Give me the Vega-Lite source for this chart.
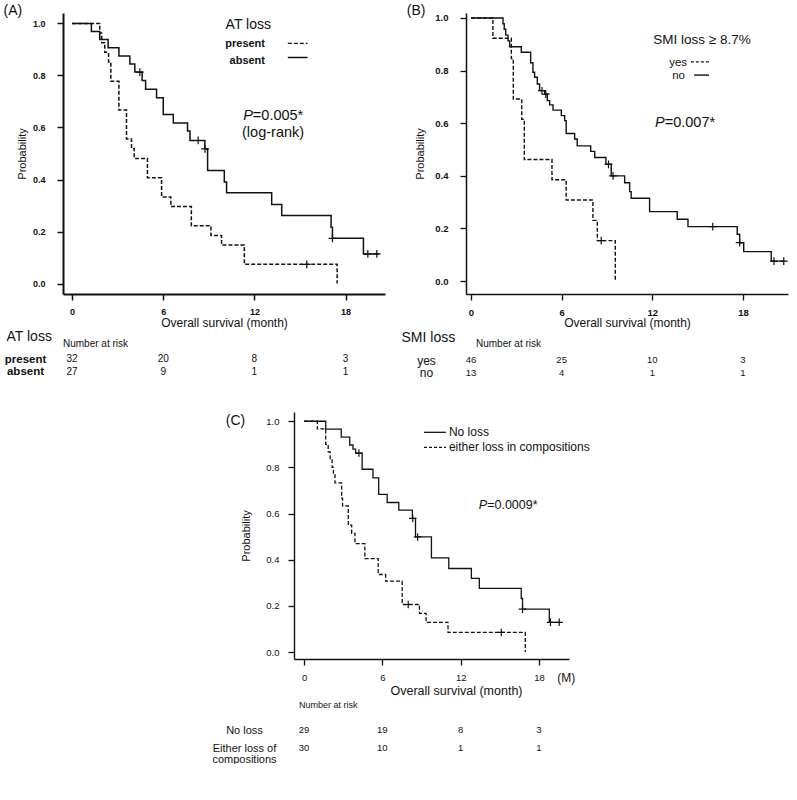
{
  "$schema": "https://vega.github.io/schema/vega-lite/v6.json",
  "background": "white",
  "padding": {"left": 3, "top": 3, "right": 0, "bottom": 0},
  "config": {
    "font": "Liberation Sans",
    "view": {"stroke": null},
    "axis": {"grid": false, "domainColor": "#111", "tickColor": "#111", "labelColor": "#111", "titleColor": "#111", "titleFontWeight": "normal", "labelFlush": false, "labelOverlap": false},
    "title": {"fontWeight": "normal", "fontSize": 14, "color": "#111", "anchor": "start", "frame": "bounds"},
    "text": {"color": "#111"}
  },
  "datasets": {
    "one": [{}],
    "kmA": [
      {"grp": "absent", "t": 0, "s": 1}, {"grp": "absent", "t": 1.27, "s": 0.969}, {"grp": "absent", "t": 1.82, "s": 0.938}, {"grp": "absent", "t": 2.37, "s": 0.906}, {"grp": "absent", "t": 3.08, "s": 0.875}, {"grp": "absent", "t": 3.8, "s": 0.844}, {"grp": "absent", "t": 4.13, "s": 0.813}, {"grp": "absent", "t": 4.61, "s": 0.781}, {"grp": "absent", "t": 4.84, "s": 0.747}, {"grp": "absent", "t": 5.56, "s": 0.714}, {"grp": "absent", "t": 6.0, "s": 0.65}, {"grp": "absent", "t": 6.66, "s": 0.617}, {"grp": "absent", "t": 7.6, "s": 0.586}, {"grp": "absent", "t": 7.76, "s": 0.55}, {"grp": "absent", "t": 8.74, "s": 0.518}, {"grp": "absent", "t": 8.92, "s": 0.435}, {"grp": "absent", "t": 10.02, "s": 0.39}, {"grp": "absent", "t": 10.17, "s": 0.349}, {"grp": "absent", "t": 13.14, "s": 0.304}, {"grp": "absent", "t": 13.8, "s": 0.262}, {"grp": "absent", "t": 17.05, "s": 0.217}, {"grp": "absent", "t": 17.14, "s": 0.174}, {"grp": "absent", "t": 19.18, "s": 0.114}, {"grp": "absent", "t": 20.2, "s": 0.114},
      {"grp": "present", "t": 0, "s": 1}, {"grp": "present", "t": 1.82, "s": 0.963}, {"grp": "present", "t": 1.95, "s": 0.926}, {"grp": "present", "t": 2.15, "s": 0.889}, {"grp": "present", "t": 2.4, "s": 0.852}, {"grp": "present", "t": 2.55, "s": 0.778}, {"grp": "present", "t": 3.08, "s": 0.667}, {"grp": "present", "t": 3.58, "s": 0.556}, {"grp": "present", "t": 3.91, "s": 0.519}, {"grp": "present", "t": 4.09, "s": 0.481}, {"grp": "present", "t": 4.96, "s": 0.407}, {"grp": "present", "t": 5.89, "s": 0.333}, {"grp": "present", "t": 6.5, "s": 0.296}, {"grp": "present", "t": 7.85, "s": 0.222}, {"grp": "present", "t": 9.14, "s": 0.185}, {"grp": "present", "t": 9.84, "s": 0.148}, {"grp": "present", "t": 11.34, "s": 0.074}, {"grp": "present", "t": 17.45, "s": 0}
    ],
    "cenA": [
      {"grp": "absent", "t": 4.46, "s": 0.813}, {"grp": "absent", "t": 8.3, "s": 0.55}, {"grp": "absent", "t": 8.75, "s": 0.518}, {"grp": "absent", "t": 17.14, "s": 0.174}, {"grp": "absent", "t": 19.47, "s": 0.114}, {"grp": "absent", "t": 20.06, "s": 0.114}, {"grp": "present", "t": 15.45, "s": 0.074}
    ],
    "riskA": [
      {"grp": "present", "t": 0, "n": "32"}, {"grp": "present", "t": 6, "n": "20"}, {"grp": "present", "t": 12, "n": "8"}, {"grp": "present", "t": 18, "n": "3"},
      {"grp": "absent", "t": 0, "n": "27"}, {"grp": "absent", "t": 6, "n": "9"}, {"grp": "absent", "t": 12, "n": "1"}, {"grp": "absent", "t": 18, "n": "1"}
    ],
    "kmB": [
      {"grp": "no", "t": 0, "s": 1}, {"grp": "no", "t": 2.12, "s": 0.978}, {"grp": "no", "t": 2.2, "s": 0.957}, {"grp": "no", "t": 2.3, "s": 0.935}, {"grp": "no", "t": 2.45, "s": 0.913}, {"grp": "no", "t": 2.56, "s": 0.891}, {"grp": "no", "t": 3.33, "s": 0.87}, {"grp": "no", "t": 3.95, "s": 0.83}, {"grp": "no", "t": 4.1, "s": 0.794}, {"grp": "no", "t": 4.21, "s": 0.775}, {"grp": "no", "t": 4.39, "s": 0.749}, {"grp": "no", "t": 4.54, "s": 0.724}, {"grp": "no", "t": 4.88, "s": 0.711}, {"grp": "no", "t": 5.05, "s": 0.686}, {"grp": "no", "t": 5.21, "s": 0.67}, {"grp": "no", "t": 5.43, "s": 0.65}, {"grp": "no", "t": 5.98, "s": 0.629}, {"grp": "no", "t": 6.2, "s": 0.61}, {"grp": "no", "t": 6.3, "s": 0.561}, {"grp": "no", "t": 6.86, "s": 0.54}, {"grp": "no", "t": 7.03, "s": 0.514}, {"grp": "no", "t": 7.92, "s": 0.493}, {"grp": "no", "t": 8.19, "s": 0.47}, {"grp": "no", "t": 8.93, "s": 0.444}, {"grp": "no", "t": 9.28, "s": 0.4}, {"grp": "no", "t": 10.17, "s": 0.374}, {"grp": "no", "t": 10.5, "s": 0.34}, {"grp": "no", "t": 10.6, "s": 0.315}, {"grp": "no", "t": 11.82, "s": 0.264}, {"grp": "no", "t": 13.65, "s": 0.235}, {"grp": "no", "t": 14.36, "s": 0.207}, {"grp": "no", "t": 17.62, "s": 0.178}, {"grp": "no", "t": 17.78, "s": 0.146}, {"grp": "no", "t": 18.05, "s": 0.112}, {"grp": "no", "t": 19.87, "s": 0.076}, {"grp": "no", "t": 20.75, "s": 0.076},
      {"grp": "yes", "t": 0, "s": 1}, {"grp": "yes", "t": 1.45, "s": 0.923}, {"grp": "yes", "t": 2.67, "s": 0.846}, {"grp": "yes", "t": 2.8, "s": 0.692}, {"grp": "yes", "t": 3.36, "s": 0.615}, {"grp": "yes", "t": 3.53, "s": 0.462}, {"grp": "yes", "t": 5.36, "s": 0.385}, {"grp": "yes", "t": 6.3, "s": 0.308}, {"grp": "yes", "t": 8.07, "s": 0.231}, {"grp": "yes", "t": 8.36, "s": 0.154}, {"grp": "yes", "t": 9.55, "s": 0}
    ],
    "cenB": [
      {"grp": "no", "t": 4.7, "s": 0.724}, {"grp": "no", "t": 4.95, "s": 0.711}, {"grp": "no", "t": 9.1, "s": 0.444}, {"grp": "no", "t": 9.4, "s": 0.4}, {"grp": "no", "t": 16.0, "s": 0.207}, {"grp": "no", "t": 17.78, "s": 0.146}, {"grp": "no", "t": 20.05, "s": 0.076}, {"grp": "no", "t": 20.7, "s": 0.076}, {"grp": "yes", "t": 8.62, "s": 0.154}
    ],
    "riskB": [
      {"grp": "yes", "t": 0, "n": "46"}, {"grp": "yes", "t": 6, "n": "25"}, {"grp": "yes", "t": 12, "n": "10"}, {"grp": "yes", "t": 18, "n": "3"},
      {"grp": "no", "t": 0, "n": "13"}, {"grp": "no", "t": 6, "n": "4"}, {"grp": "no", "t": 12, "n": "1"}, {"grp": "no", "t": 18, "n": "1"}
    ],
    "kmC": [
      {"grp": "No loss", "t": 0, "s": 1}, {"grp": "No loss", "t": 1.66, "s": 0.966}, {"grp": "No loss", "t": 2.85, "s": 0.931}, {"grp": "No loss", "t": 3.5, "s": 0.897}, {"grp": "No loss", "t": 3.75, "s": 0.879}, {"grp": "No loss", "t": 3.95, "s": 0.862}, {"grp": "No loss", "t": 4.45, "s": 0.792}, {"grp": "No loss", "t": 5.28, "s": 0.755}, {"grp": "No loss", "t": 5.72, "s": 0.683}, {"grp": "No loss", "t": 6.37, "s": 0.648}, {"grp": "No loss", "t": 7.26, "s": 0.615}, {"grp": "No loss", "t": 8.3, "s": 0.579}, {"grp": "No loss", "t": 8.54, "s": 0.499}, {"grp": "No loss", "t": 9.76, "s": 0.408}, {"grp": "No loss", "t": 11.09, "s": 0.362}, {"grp": "No loss", "t": 12.82, "s": 0.319}, {"grp": "No loss", "t": 13.43, "s": 0.276}, {"grp": "No loss", "t": 16.64, "s": 0.232}, {"grp": "No loss", "t": 16.74, "s": 0.186}, {"grp": "No loss", "t": 18.79, "s": 0.129}, {"grp": "No loss", "t": 19.65, "s": 0.129},
      {"grp": "either loss in compositions", "t": 0, "s": 1}, {"grp": "either loss in compositions", "t": 1.02, "s": 0.967}, {"grp": "either loss in compositions", "t": 1.66, "s": 0.9}, {"grp": "either loss in compositions", "t": 1.85, "s": 0.867}, {"grp": "either loss in compositions", "t": 2.0, "s": 0.833}, {"grp": "either loss in compositions", "t": 2.15, "s": 0.8}, {"grp": "either loss in compositions", "t": 2.25, "s": 0.767}, {"grp": "either loss in compositions", "t": 2.37, "s": 0.733}, {"grp": "either loss in compositions", "t": 2.88, "s": 0.667}, {"grp": "either loss in compositions", "t": 2.95, "s": 0.633}, {"grp": "either loss in compositions", "t": 3.39, "s": 0.55}, {"grp": "either loss in compositions", "t": 3.65, "s": 0.514}, {"grp": "either loss in compositions", "t": 3.9, "s": 0.47}, {"grp": "either loss in compositions", "t": 4.66, "s": 0.405}, {"grp": "either loss in compositions", "t": 5.68, "s": 0.336}, {"grp": "either loss in compositions", "t": 6.25, "s": 0.307}, {"grp": "either loss in compositions", "t": 7.52, "s": 0.206}, {"grp": "either loss in compositions", "t": 8.84, "s": 0.168}, {"grp": "either loss in compositions", "t": 9.35, "s": 0.129}, {"grp": "either loss in compositions", "t": 11.03, "s": 0.085}, {"grp": "either loss in compositions", "t": 16.95, "s": 0}
    ],
    "cenC": [
      {"grp": "No loss", "t": 4.2, "s": 0.862}, {"grp": "No loss", "t": 8.33, "s": 0.579}, {"grp": "No loss", "t": 8.7, "s": 0.499}, {"grp": "No loss", "t": 16.74, "s": 0.186}, {"grp": "No loss", "t": 18.88, "s": 0.129}, {"grp": "No loss", "t": 19.55, "s": 0.129}, {"grp": "either loss in compositions", "t": 7.98, "s": 0.206}, {"grp": "either loss in compositions", "t": 15.11, "s": 0.085}
    ],
    "riskC": [
      {"grp": "No loss", "t": 0, "n": "29"}, {"grp": "No loss", "t": 6, "n": "19"}, {"grp": "No loss", "t": 12, "n": "8"}, {"grp": "No loss", "t": 18, "n": "3"},
      {"grp": "Either", "t": 0, "n": "30"}, {"grp": "Either", "t": 6, "n": "10"}, {"grp": "Either", "t": 12, "n": "1"}, {"grp": "Either", "t": 18, "n": "1"}
    ]
  },
  "spacing": 33,
  "vconcat": [
    {
      "spacing": 16,
      "hconcat": [
        {
          "spacing": 1,
          "vconcat": [
            {
              "width": 322,
              "height": 281,
              "title": {"text": "(A)", "offset": -5, "dx": -13},
              "layer": [
                {
                  "data": {"name": "kmA"},
                  "mark": {"type": "line", "interpolate": "step-after", "strokeWidth": 1.5, "color": "#111"},
                  "encoding": {
                    "x": {"field": "t", "type": "quantitative", "scale": {"domain": [-0.6, 20.6], "nice": false, "zero": false},
                      "axis": {"values": [0, 6, 12, 18], "title": "Overall  survival  (month)", "titleFontSize": 12, "titlePadding": 1, "labelFontSize": 9, "labelFontWeight": "bold", "labelPadding": 7, "tickSize": 6, "domainWidth": 2, "tickWidth": 1.5}},
                    "y": {"field": "s", "type": "quantitative", "scale": {"domain": [-0.04, 1.04], "nice": false, "zero": false},
                      "axis": {"values": [0, 0.2, 0.4, 0.6, 0.8, 1], "format": ".1f", "title": "Probability", "titleFontSize": 11, "titlePadding": 5, "labelFontSize": 9, "labelFontWeight": "bold", "labelPadding": 12, "tickSize": 6, "domainWidth": 2, "tickWidth": 1.5}},
                    "strokeDash": {"field": "grp", "type": "nominal", "scale": {"domain": ["present", "absent"], "range": [[4, 2], [1, 0]]}, "legend": null}
                  }
                },
                {
                  "data": {"name": "cenA"},
                  "mark": {"type": "point", "shape": "M-1,0L1,0M0,-1L0,1", "size": 60, "filled": false, "strokeWidth": 1.2, "color": "#111", "opacity": 1},
                  "encoding": {"x": {"field": "t", "type": "quantitative"}, "y": {"field": "s", "type": "quantitative"}}
                },
                {"data": {"name": "one"}, "mark": {"type": "text", "text": "P", "fontStyle": "italic", "fontSize": 14.5, "align": "right"}, "encoding": {"x": {"datum": 11.9}, "y": {"datum": 0.646}}},
                {"data": {"name": "one"}, "mark": {"type": "text", "text": "=0.005*", "fontSize": 14.5, "align": "left"}, "encoding": {"x": {"datum": 11.9}, "y": {"datum": 0.646}}},
                {"data": {"name": "one"}, "mark": {"type": "text", "text": "(log-rank)", "fontSize": 14.5, "align": "center"}, "encoding": {"x": {"datum": 13.23}, "y": {"datum": 0.577}}},
                {"data": {"name": "one"}, "mark": {"type": "text", "text": "AT loss", "fontSize": 14, "align": "center"}, "encoding": {"x": {"datum": 11.6}, "y": {"datum": 0.992}}},
                {"data": {"name": "one"}, "mark": {"type": "text", "text": "present", "fontSize": 11, "fontWeight": "bold", "align": "right"}, "encoding": {"x": {"datum": 12.7}, "y": {"datum": 0.919}}},
                {"data": {"name": "one"}, "mark": {"type": "text", "text": "absent", "fontSize": 11, "fontWeight": "bold", "align": "right"}, "encoding": {"x": {"datum": 12.7}, "y": {"datum": 0.854}}},
                {"data": {"name": "one"}, "mark": {"type": "rule", "strokeDash": [4, 2], "strokeWidth": 1.3, "color": "#111"}, "encoding": {"x": {"datum": 14.2}, "x2": {"datum": 15.5}, "y": {"datum": 0.923}}},
                {"data": {"name": "one"}, "mark": {"type": "rule", "strokeWidth": 1.5, "color": "#111"}, "encoding": {"x": {"datum": 14.2}, "x2": {"datum": 15.5}, "y": {"datum": 0.869}}}
              ]
            },
            {
              "width": 322,
              "height": 38,
              "data": {"name": "riskA"},
              "layer": [
                {
                  "mark": {"type": "text", "fontSize": 10},
                  "encoding": {
                    "x": {"field": "t", "type": "quantitative", "scale": {"domain": [-0.6, 20.6], "nice": false, "zero": false}, "axis": null},
                    "y": {"field": "grp", "type": "nominal", "scale": {"domain": ["hdr", "present", "absent"], "paddingInner": 0, "paddingOuter": 0},
                      "axis": {"title": "AT loss", "titleAngle": 0, "titleAlign": "left", "titleBaseline": "middle", "titleX": -57, "titleY": -4, "titleFontSize": 14, "labelExpr": "datum.value == 'hdr' ? '' : datum.value", "labelFontSize": 11.5, "labelFontWeight": "bold", "labelAlign": "center", "labelPadding": 38, "ticks": false, "tickSize": 0, "domain": false}},
                    "text": {"field": "n"}
                  }
                },
                {"data": {"name": "one"}, "mark": {"type": "text", "text": "Number at risk", "fontSize": 10, "align": "left", "dy": -2}, "encoding": {"x": {"datum": -0.6}, "y": {"datum": "hdr"}}}
              ]
            }
          ]
        },
        {
          "spacing": 1,
          "vconcat": [
            {
              "width": 322,
              "height": 281,
              "title": {"text": "(B)", "offset": -5, "dx": -8},
              "layer": [
                {
                  "data": {"name": "kmB"},
                  "mark": {"type": "line", "interpolate": "step-after", "strokeWidth": 1.4, "color": "#111"},
                  "encoding": {
                    "x": {"field": "t", "type": "quantitative", "scale": {"domain": [-0.33, 20.98], "nice": false, "zero": false},
                      "axis": {"values": [0, 6, 12, 18], "title": "Overall  survival  (month)", "titleFontSize": 12, "titlePadding": 1, "labelFontSize": 9.5, "labelFontWeight": "bold", "labelPadding": 7, "tickSize": 6, "domainWidth": 1.5, "tickWidth": 1.3}},
                    "y": {"field": "s", "type": "quantitative", "scale": {"domain": [-0.049, 1.019], "nice": false, "zero": false},
                      "axis": {"values": [0, 0.2, 0.4, 0.6, 0.8, 1], "format": ".1f", "title": "Probability", "titleFontSize": 11, "titlePadding": 9, "labelFontSize": 9.5, "labelFontWeight": "bold", "labelPadding": 12, "tickSize": 6, "domainWidth": 1.5, "tickWidth": 1.3}},
                    "strokeDash": {"field": "grp", "type": "nominal", "scale": {"domain": ["yes", "no"], "range": [[3, 2], [1, 0]]}, "legend": null}
                  }
                },
                {
                  "data": {"name": "cenB"},
                  "mark": {"type": "point", "shape": "M-1,0L1,0M0,-1L0,1", "size": 60, "filled": false, "strokeWidth": 1.2, "color": "#111", "opacity": 1},
                  "encoding": {"x": {"field": "t", "type": "quantitative"}, "y": {"field": "s", "type": "quantitative"}}
                },
                {"data": {"name": "one"}, "mark": {"type": "text", "text": "P", "fontStyle": "italic", "fontSize": 14.5, "align": "right"}, "encoding": {"x": {"datum": 12.82}, "y": {"datum": 0.6}}},
                {"data": {"name": "one"}, "mark": {"type": "text", "text": "=0.007*", "fontSize": 14.5, "align": "left"}, "encoding": {"x": {"datum": 12.82}, "y": {"datum": 0.6}}},
                {"data": {"name": "one"}, "mark": {"type": "text", "text": "SMI loss ≥ 8.7%", "fontSize": 13.5, "align": "center"}, "encoding": {"x": {"datum": 15.29}, "y": {"datum": 0.916}}},
                {"data": {"name": "one"}, "mark": {"type": "text", "text": "yes", "fontSize": 11.5, "align": "right"}, "encoding": {"x": {"datum": 14.3}, "y": {"datum": 0.829}}},
                {"data": {"name": "one"}, "mark": {"type": "text", "text": "no", "fontSize": 11.5, "align": "right"}, "encoding": {"x": {"datum": 14.16}, "y": {"datum": 0.78}}},
                {"data": {"name": "one"}, "mark": {"type": "rule", "strokeDash": [3, 2], "strokeWidth": 1.3, "color": "#111"}, "encoding": {"x": {"datum": 14.55}, "x2": {"datum": 15.82}, "y": {"datum": 0.833}}},
                {"data": {"name": "one"}, "mark": {"type": "rule", "strokeWidth": 1.4, "color": "#111"}, "encoding": {"x": {"datum": 14.76}, "x2": {"datum": 15.75}, "y": {"datum": 0.783}}}
              ]
            },
            {
              "width": 322,
              "height": 38,
              "data": {"name": "riskB"},
              "layer": [
                {
                  "mark": {"type": "text", "fontSize": 9.5},
                  "encoding": {
                    "x": {"field": "t", "type": "quantitative", "scale": {"domain": [-0.33, 20.98], "nice": false, "zero": false}, "axis": null},
                    "y": {"field": "grp", "type": "nominal", "scale": {"domain": ["hdr", "yes", "no"], "paddingInner": 0, "paddingOuter": 0},
                      "axis": {"title": "SMI loss", "titleAngle": 0, "titleAlign": "left", "titleBaseline": "middle", "titleX": -65, "titleY": -4, "titleFontSize": 14, "labelExpr": "datum.value == 'hdr' ? '' : datum.value", "labelFontSize": 12, "labelAlign": "center", "labelPadding": 40, "ticks": false, "tickSize": 0, "domain": false}},
                    "text": {"field": "n"}
                  }
                },
                {"data": {"name": "one"}, "mark": {"type": "text", "text": "Number at risk", "fontSize": 10, "align": "left", "dy": -3}, "encoding": {"x": {"datum": 0.33}, "y": {"datum": "hdr"}}}
              ]
            }
          ]
        }
      ]
    },
    {
      "spacing": 0,
      "hconcat": [
        {
          "width": 147,
          "height": 10,
          "data": {"name": "one"},
          "mark": {"type": "point", "opacity": 0}
        },
        {
          "spacing": 4,
          "vconcat": [
            {
              "width": 275,
              "height": 247,
              "title": {"text": "(C)", "offset": -16, "dx": -15},
              "layer": [
                {
                  "data": {"name": "kmC"},
                  "mark": {"type": "line", "interpolate": "step-after", "strokeWidth": 1.3, "color": "#111"},
                  "encoding": {
                    "x": {"field": "t", "type": "quantitative", "scale": {"domain": [-0.77, 20.3], "nice": false, "zero": false},
                      "axis": {"values": [0, 6, 12, 18, 20.06], "labelExpr": "datum.value > 19 ? '(M)' : datum.label", "labelFontSize": {"condition": {"test": "datum.value > 19", "value": 12}, "value": 9.5}, "tickOpacity": {"condition": {"test": "datum.value > 19", "value": 0}, "value": 1}, "title": "Overall survival (month)", "titleFontSize": 12.5, "titleX": 162, "titlePadding": 1, "labelPadding": 7.5, "tickSize": 6, "domainWidth": 1.4, "tickWidth": 1.3}},
                    "y": {"field": "s", "type": "quantitative", "scale": {"domain": [-0.03, 1.04], "nice": false, "zero": false},
                      "axis": {"values": [0, 0.2, 0.4, 0.6, 0.8, 1], "format": ".1f", "title": "Probability", "titleFontSize": 11, "titlePadding": 14, "labelFontSize": 9.5, "labelPadding": 9, "tickSize": 6, "domainWidth": 1.4, "tickWidth": 1.3}},
                    "strokeDash": {"field": "grp", "type": "nominal", "scale": {"domain": ["either loss in compositions", "No loss"], "range": [[3, 2], [1, 0]]}, "legend": null}
                  }
                },
                {
                  "data": {"name": "cenC"},
                  "mark": {"type": "point", "shape": "M-1,0L1,0M0,-1L0,1", "size": 56, "filled": false, "strokeWidth": 1.2, "color": "#111", "opacity": 1},
                  "encoding": {"x": {"field": "t", "type": "quantitative"}, "y": {"field": "s", "type": "quantitative"}}
                },
                {"data": {"name": "one"}, "mark": {"type": "rule", "strokeWidth": 1.3, "color": "#111"}, "encoding": {"x": {"datum": 9.19}, "x2": {"datum": 10.87}, "y": {"datum": 0.952}}},
                {"data": {"name": "one"}, "mark": {"type": "rule", "strokeDash": [3, 2], "strokeWidth": 1.3, "color": "#111"}, "encoding": {"x": {"datum": 9.19}, "x2": {"datum": 10.87}, "y": {"datum": 0.887}}},
                {"data": {"name": "one"}, "mark": {"type": "text", "text": "No loss", "fontSize": 12, "align": "left"}, "encoding": {"x": {"datum": 11.1}, "y": {"datum": 0.952}}},
                {"data": {"name": "one"}, "mark": {"type": "text", "text": "either loss in compositions", "fontSize": 12, "align": "left"}, "encoding": {"x": {"datum": 11.1}, "y": {"datum": 0.887}}},
                {"data": {"name": "one"}, "mark": {"type": "text", "text": "P", "fontStyle": "italic", "fontSize": 12.5, "align": "right"}, "encoding": {"x": {"datum": 14.03}, "y": {"datum": 0.636}}},
                {"data": {"name": "one"}, "mark": {"type": "text", "text": "=0.0009*", "fontSize": 12.5, "align": "left"}, "encoding": {"x": {"datum": 14.03}, "y": {"datum": 0.636}}}
              ]
            },
            {
              "width": 275,
              "height": 54,
              "data": {"name": "riskC"},
              "layer": [
                {
                  "mark": {"type": "text", "fontSize": 9.5},
                  "encoding": {
                    "x": {"field": "t", "type": "quantitative", "scale": {"domain": [-0.77, 20.3], "nice": false, "zero": false}, "axis": null},
                    "y": {"field": "grp", "type": "nominal", "scale": {"domain": ["hdr", "No loss", "Either"], "paddingInner": 0, "paddingOuter": 0},
                      "axis": {"title": null, "labelExpr": "datum.value == 'hdr' ? '' : (datum.value == 'Either' ? ['Either  loss of', 'compositions'] : datum.value)", "labelLineHeight": 11, "labelFontSize": 11, "labelAlign": "center", "labelPadding": 50, "ticks": false, "tickSize": 0, "domain": false}},
                    "text": {"field": "n"}
                  }
                },
                {"data": {"name": "one"}, "mark": {"type": "text", "text": "Number at risk", "fontSize": 9, "align": "left", "dy": -7}, "encoding": {"x": {"datum": -0.38}, "y": {"datum": "hdr"}}}
              ]
            }
          ]
        }
      ]
    }
  ]
}
